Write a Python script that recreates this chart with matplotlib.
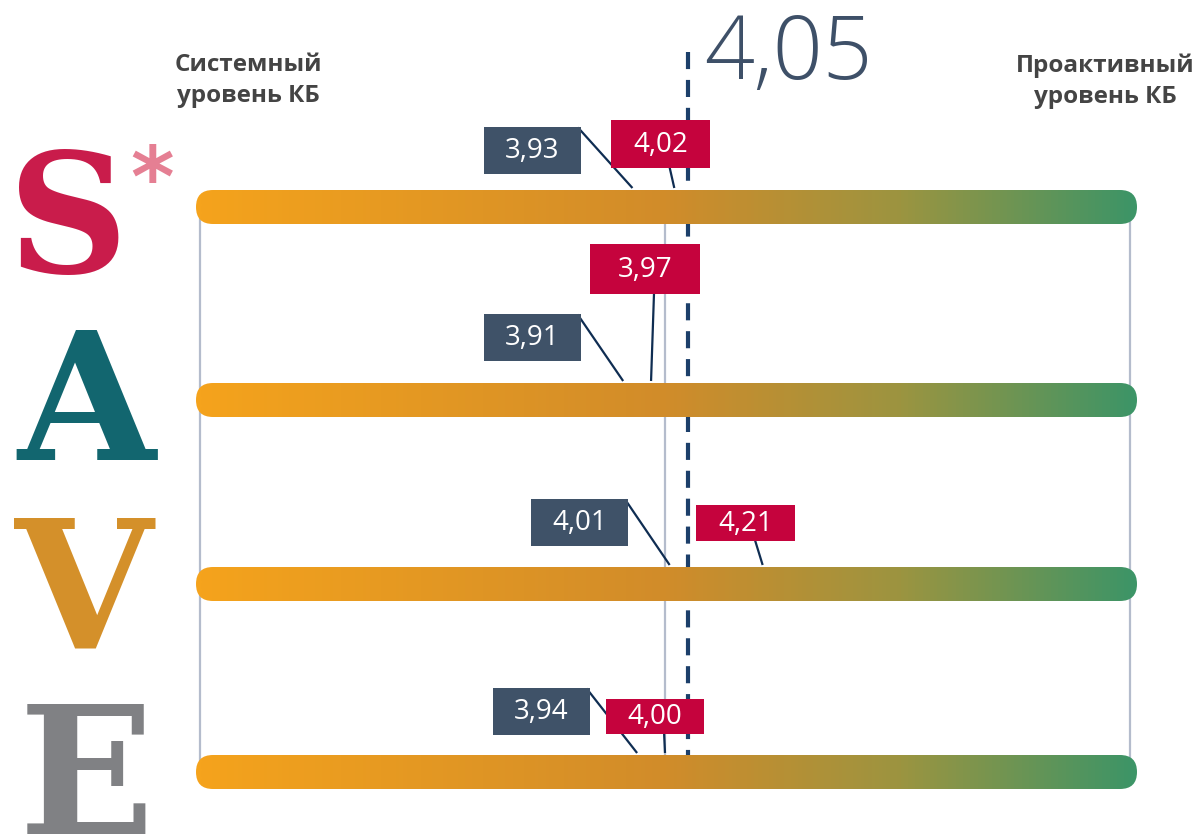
import numpy as np
import matplotlib.pyplot as plt
from matplotlib.colors import LinearSegmentedColormap
from matplotlib.patches import FancyBboxPatch, Rectangle

# --- data ---
letters = ['S', 'A', 'V', 'E']
letter_colors = ['#C91C4B', '#12666F', '#D4902A', '#808184']
dark_vals = [3.93, 3.91, 4.01, 3.94]
red_vals = [4.02, 3.97, 4.21, 4.00]
average = 4.05
scale_ticks = [3, 4, 5]
left_title = 'Системный\nуровень КБ'
right_title = 'Проактивный\nуровень КБ'

# --- layout (pixels) ---
W, H = 1194, 834
ppu = 465.0          # pixels per scale unit
x_at3 = 200          # pixel of value 3
row_y = [207, 400, 584, 772]
bar_h = 34
dark_off = [(-100, -57), (-91, -63), (-90, -62), (-96, -61)]
red_off = [(-14, -63), (-6, -131), (-17, -61), (-10, -56)]
red_size = [(99, 48), (110, 50), (99, 36), (98, 35)]
dark_size = (97, 47)

def fmt(v):
    return f'{v:.2f}'.replace('.', ',')

fig = plt.figure(figsize=(W / 100, H / 100), dpi=100)
ax = fig.add_axes([0, 0, 1, 1])
ax.axis('off')

cmap = LinearSegmentedColormap.from_list(
    'kb', [(0, '#F5A31C'), (0.5, '#D18C2A'), (0.75, '#9C9440'), (1, '#3D9567')])
grad = np.linspace(0, 1, 256).reshape(1, -1)

# scale lines
ax.vlines(scale_ticks, row_y[0], row_y[-1], color='#B4BCCC', lw=1.6, zorder=1)
ax.vlines(average, 52, 760, color='#1C3F6A', lw=3,
          linestyles=(0, (4.1, 2.6)), zorder=1.5)

# gradient bars
x0 = scale_ticks[0] - 4 / ppu
x1 = scale_ticks[-1] + 7 / ppu
for y in row_y:
    patch = FancyBboxPatch((x0, y - bar_h / 2), x1 - x0, bar_h,
                           boxstyle=f'round,pad=0,rounding_size={bar_h / 2 / ppu}',
                           mutation_aspect=ppu, facecolor='none', edgecolor='none')
    ax.add_patch(patch)
    im = ax.imshow(grad, cmap=cmap, extent=(x0, x1, y + bar_h / 2, y - bar_h / 2),
                   aspect='auto', zorder=2, interpolation='bilinear')
    im.set_clip_path(patch)

# value labels
lab_font = dict(family=['Open Sans', 'DejaVu Sans'], fontsize=20, color='white',
                ha='center', va='center')
for i, y in enumerate(row_y):
    top = y - bar_h / 2
    # dark
    v = dark_vals[i]
    cx = v + dark_off[i][0] / ppu
    cy = y + dark_off[i][1]
    bw, bh = dark_size
    ax.add_patch(Rectangle((cx - bw / 2 / ppu, cy - bh / 2), bw / ppu, bh,
                           facecolor='#3F5268', edgecolor='none', zorder=6))
    ax.text(cx, cy + 1, fmt(v), zorder=6.5, **lab_font)
    ax.plot([cx + (bw / 2 - 3) / ppu, v], [cy - bh / 2 + 1, top - 2],
            color='#0F2D52', lw=1.6, zorder=5, solid_capstyle='butt')
    # red
    v = red_vals[i]
    cx = v + red_off[i][0] / ppu
    cy = y + red_off[i][1]
    bw, bh = red_size[i]
    ax.add_patch(Rectangle((cx - bw / 2 / ppu, cy - bh / 2), bw / ppu, bh,
                           facecolor='#C5033D', edgecolor='none', zorder=7))
    ax.text(cx, cy + 1, fmt(v), zorder=7.5, **lab_font)
    ax.plot([cx + 9 / ppu, v], [cy + bh / 2 - 2, top - 2],
            color='#0F2D52', lw=1.6, zorder=5, solid_capstyle='butt')

ax.set_xlim(scale_ticks[0] - x_at3 / ppu, scale_ticks[0] + (W - x_at3) / ppu)
ax.set_ylim(H, 0)

# texts in pixel coordinates
def fx(x):
    return x / W

def fy(y):
    return 1 - y / H

fig.text(fx(704), fy(79), fmt(average), family=['Open Sans', 'DejaVu Sans'],
         fontweight='light', fontsize=63, color='#3E5068', ha='left', va='baseline')
fig.text(fx(248), fy(53), left_title, family=['Open Sans', 'DejaVu Sans'],
         fontweight='bold', fontsize=17.5, color='#444444', ha='center', va='top',
         linespacing=1.4)
fig.text(fx(1105), fy(53), right_title, family=['Open Sans', 'DejaVu Sans'],
         fontweight='bold', fontsize=17.5, color='#444444', ha='center', va='top',
         linespacing=1.4)

letter_pos = [(68, 273), (86, 460), (84, 647), (86, 834)]
letter_size = [120, 128, 128, 128]
for ch, col, (lx, ly), fs in zip(letters, letter_colors, letter_pos, letter_size):
    fig.text(fx(lx), fy(ly), ch, family='DejaVu Serif', fontweight='bold',
             fontsize=fs, color=col, ha='center', va='baseline')
fig.text(fx(152), fy(206), '*', family='DejaVu Sans', fontweight='bold',
         fontsize=60, color='#E57F93', ha='center', va='baseline')

fig.savefig('out.png', dpi=100)
